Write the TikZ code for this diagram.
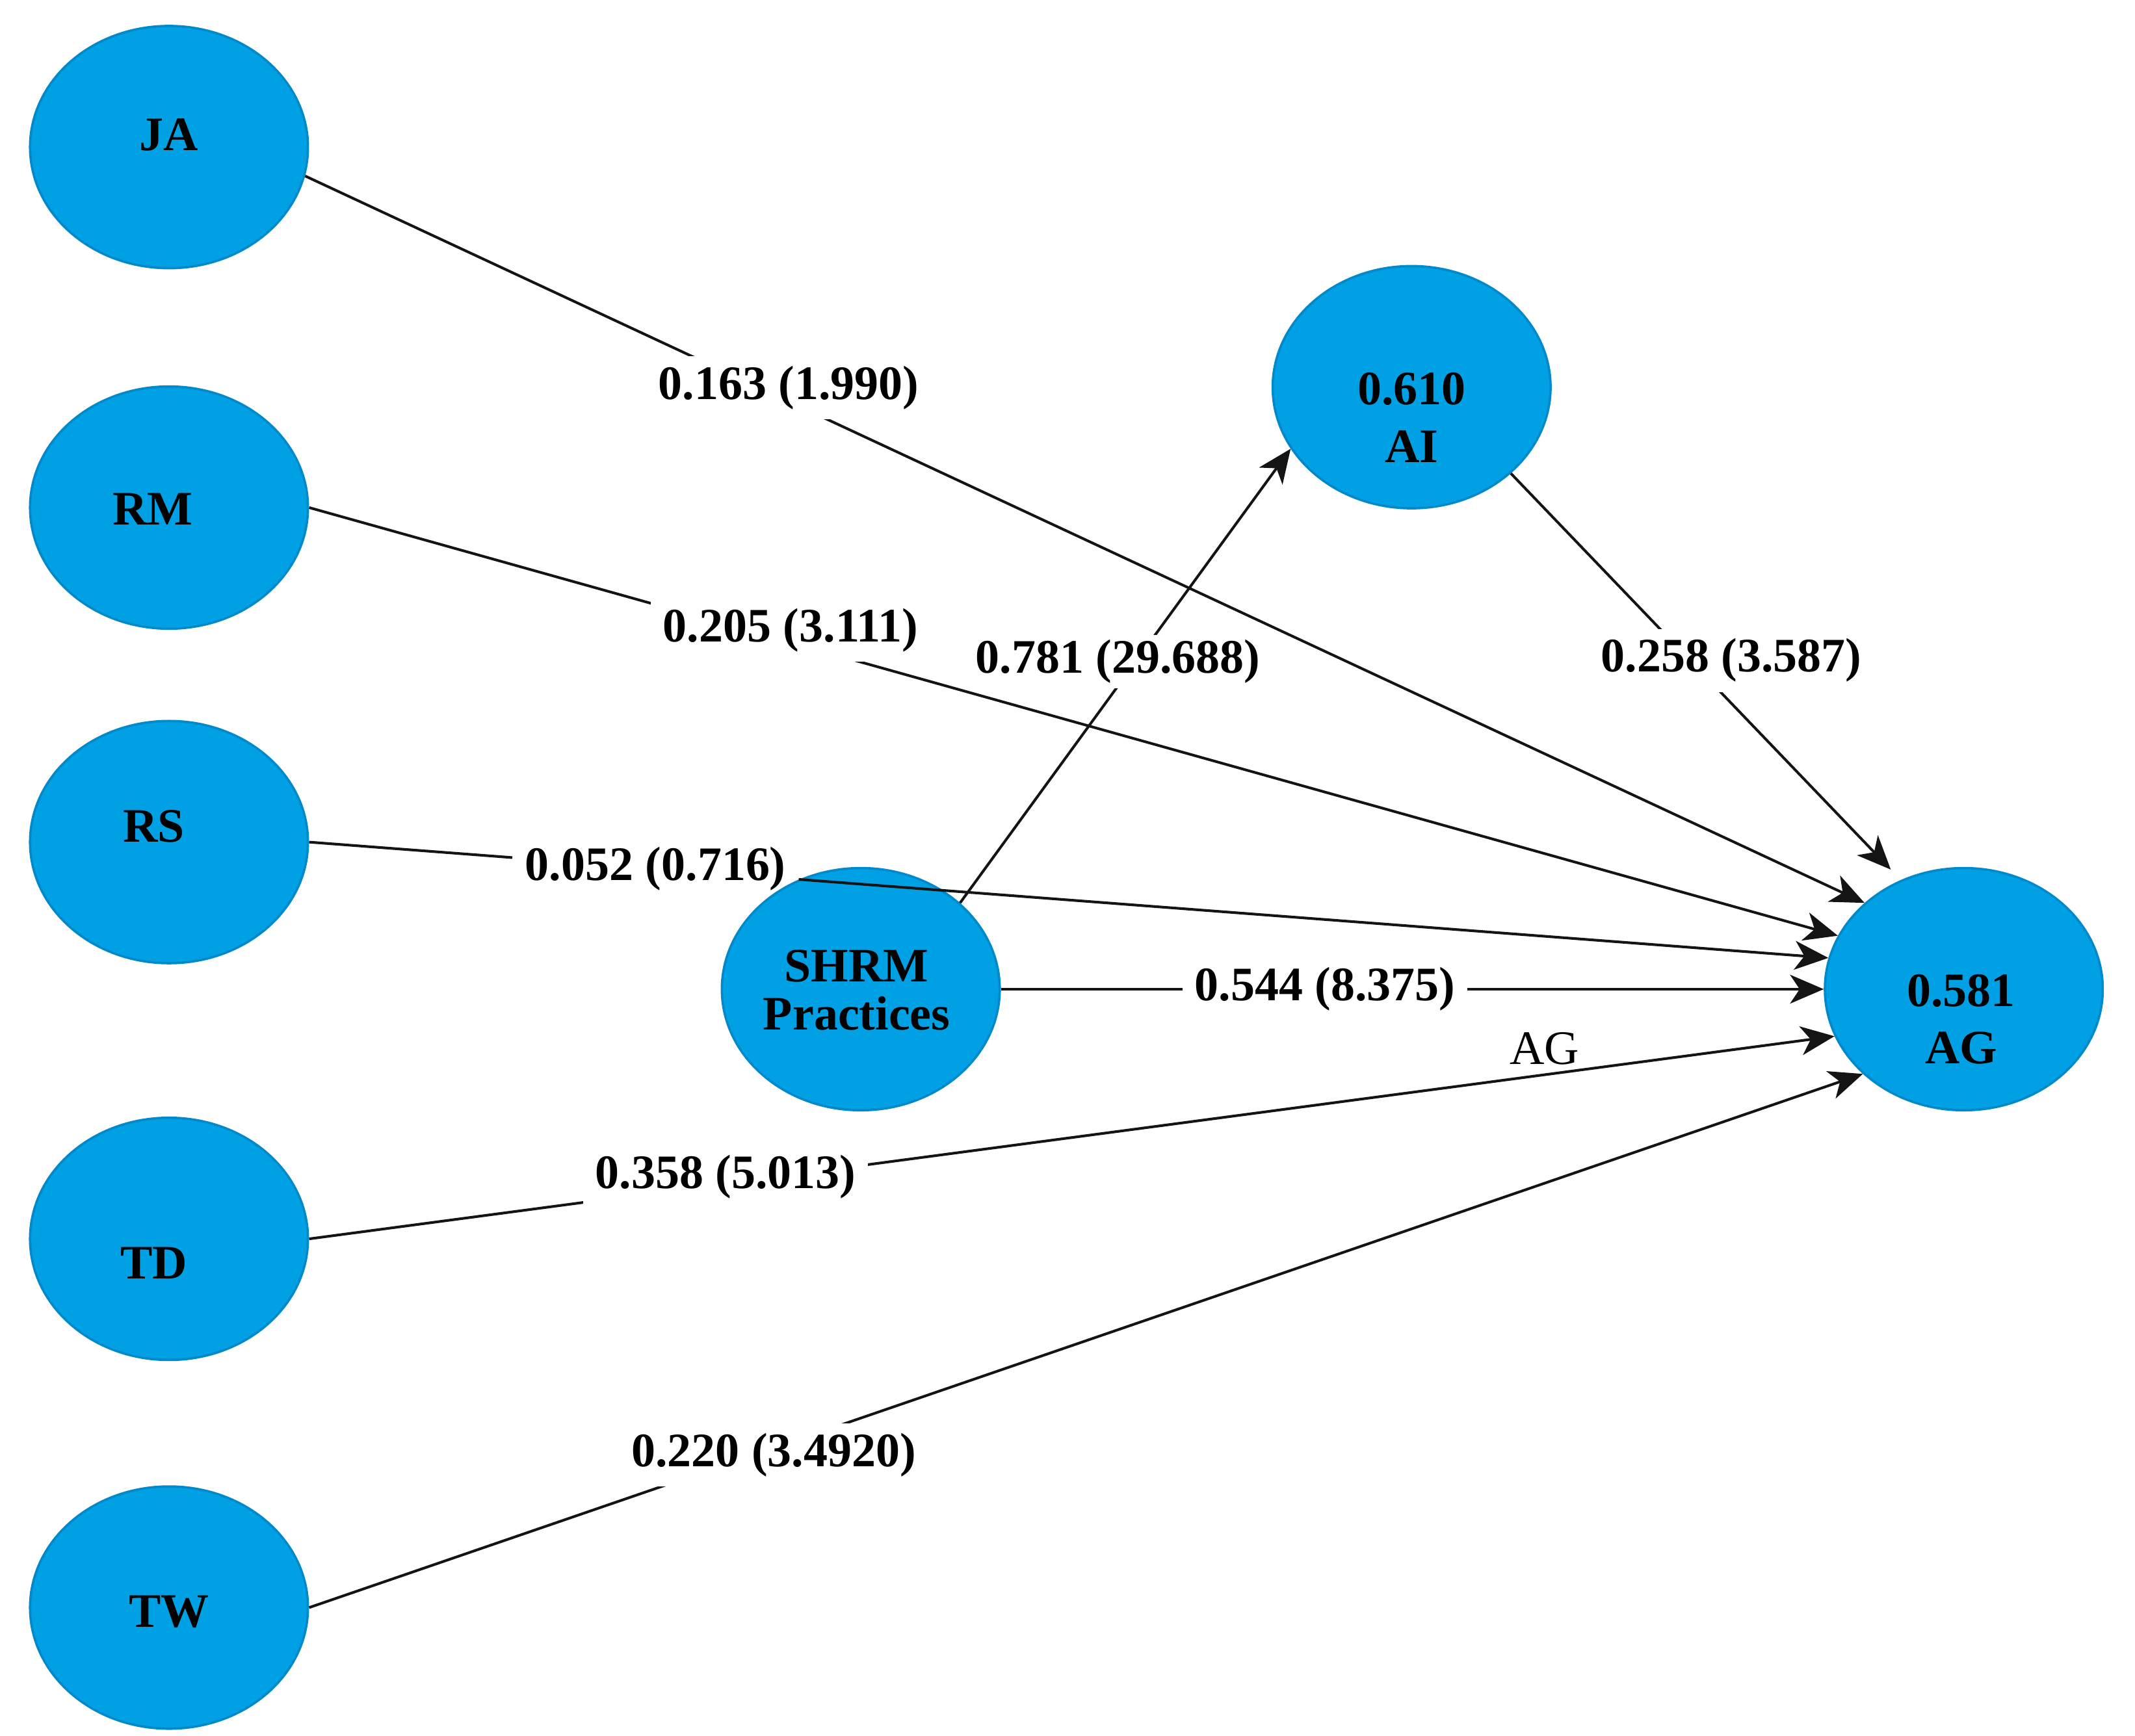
\documentclass[tikz,border=0pt]{standalone}
\usepackage{fontspec}
\setmainfont{Liberation Serif}
\definecolor{latentblue}{RGB}{0, 161, 228}
\definecolor{latentedge}{RGB}{0, 138, 204}
\definecolor{pathgray}{RGB}{20, 20, 20}
\usepackage{tikz}
\usetikzlibrary{shapes.geometric, arrows.meta}

\begin{document}
\begin{tikzpicture}[
    latent/.style={ellipse, fill=latentblue, draw=latentedge, line width=0.5pt,
      minimum width=2.03cm, minimum height=1.77cm, inner sep=0pt},
    vname/.style={font=\bfseries, align=center, inner sep=0pt},
    coef/.style={fill=white, inner xsep=2.5pt, inner ysep=2pt, font=\bfseries},
    link/.style={draw=pathgray, line width=0.55pt},
    effect/.style={link, -{Stealth[length=7pt, width=6pt, inset=2pt]}}
  ]
  \useasboundingbox (0, 0) rectangle (15.601, 12.684);

  \node[latent] (JA) at (1.235, 11.609) {};
  \node[latent] (RM) at (1.235, 8.974) {};
  \node[latent] (RS) at (1.235, 6.529) {};
  \node[latent] (TD) at (1.235, 3.629) {};
  \node[latent] (TW) at (1.235, 0.934) {};
  \node[latent] (SHRM) at (6.29, 5.454) {};
  \node[latent] (AI) at (10.315, 9.854) {};
  \node[latent] (AG) at (14.35, 5.454) {};

  \node[vname] (JAt) at (1.235, 11.699) {JA};
  \node[vname] (RMt) at (1.115, 8.964) {RM};
  \node[vname] (RSt) at (1.125, 6.644) {RS};
  \node[vname] (TDt) at (1.125, 3.454) {TD};
  \node[vname] (TWt) at (1.235, 0.904) {TW};
  \node[vname] (SHRMt) at (6.26, 5.449) {SHRM\\[-2pt]Practices};
  \node[vname] (AIt) at (10.315, 9.634) {0.610\\AI};
  \node[vname] (AGt) at (14.33, 5.234) {0.581\\AG};

  \draw[effect] (JA.-12) -- node[coef, pos=0.31, yshift=0.1cm] (bJA) {0.163 (1.990)} (AG.139);
  \draw[effect] (RM.east) -- node[coef, pos=0.315, yshift=0.09cm] (bRM) {0.205 (3.111)} (AG.157);
  \path (RS.east) -- node[coef, fill=none, pos=0.228] (bRS) {0.052 (0.716)} (AG.167);
  \draw[link] (RS.east) -- (bRS);
  \draw[effect] (bRS) -- (AG.167);
  \draw[effect] (SHRM.east) -- node[coef, pos=0.394] (bSHRM) {0.544 (8.375)} (AG.west);
  \draw[effect] (TD.east) -- node[coef, pos=0.273, yshift=0.05cm] (bTD) {0.358 (5.013)}
    node[pos=0.81, above=-1.5pt] (TDtag) {AG} (AG.200);
  \draw[effect] (TW.east) -- node[coef, pos=0.299, yshift=-0.05cm] (bTW) {0.220 (3.4920)} (AG.220);
  \draw[effect] (SHRM.41) -- node[coef, inner ysep=1pt, pos=0.531, xshift=-0.13cm] (bAI) {0.781 (29.688)} (AI.207);
  \draw[effect, shorten >=3pt] (AI.-41) -- node[coef, pos=0.46, xshift=0.3cm] (bAG) {0.258 (3.587)} (AG.120);
\end{tikzpicture}
\end{document}
